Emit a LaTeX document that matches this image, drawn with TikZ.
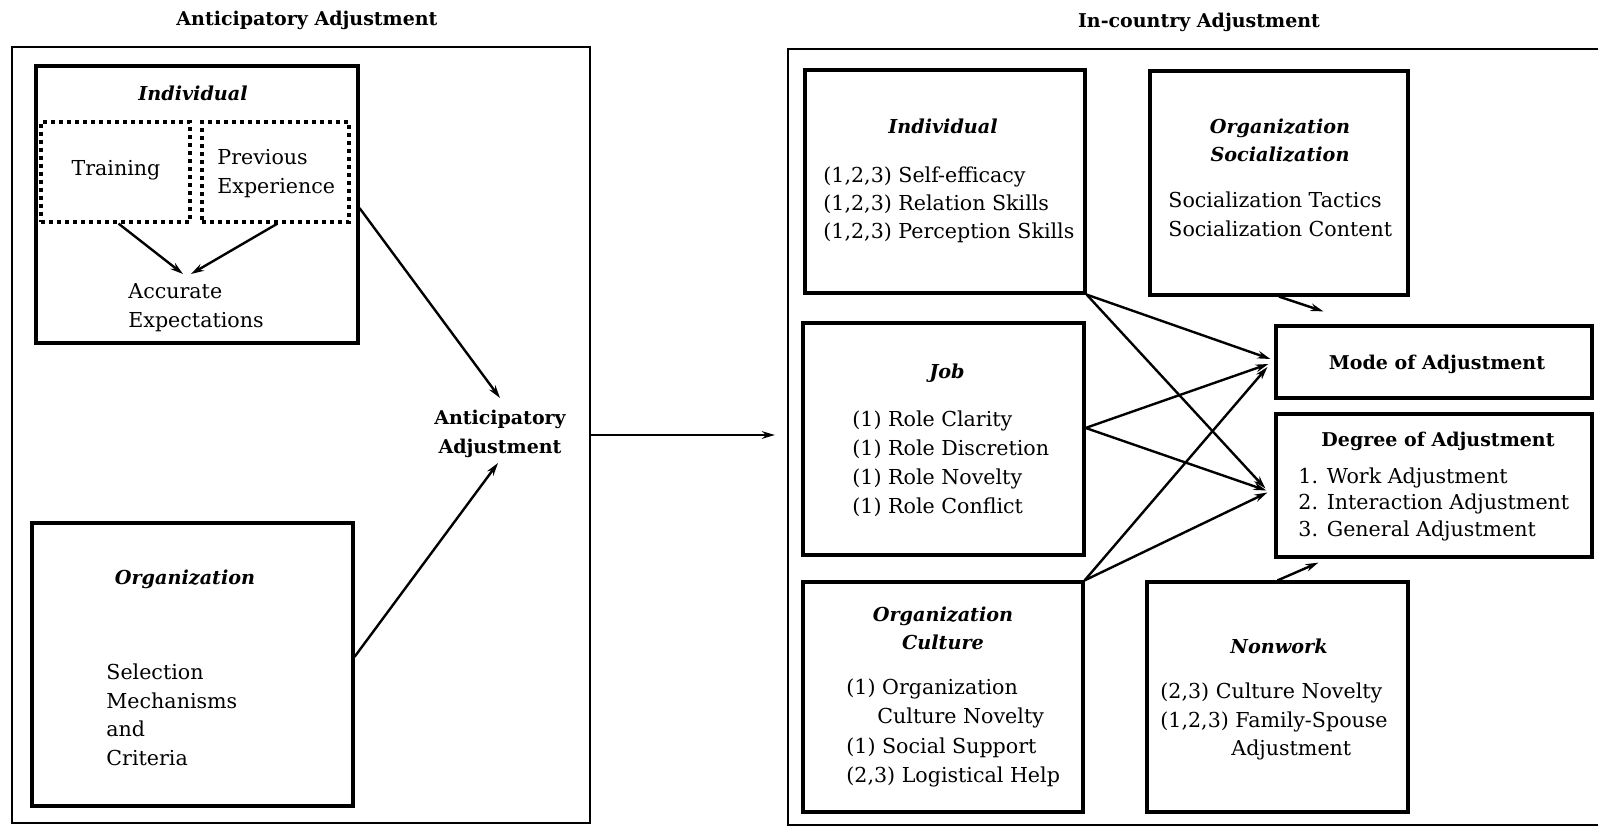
\documentclass[tikz,border=0pt]{standalone}
\usepackage{fontspec}
\setmainfont{DejaVu Serif}
\usetikzlibrary{arrows.meta,fit,calc}
\begin{document}
\begin{tikzpicture}[x=0.5pt,y=-0.5pt,
  box/.style={draw,line width=1.6pt,inner sep=0pt},
  dotbox/.style={draw,line width=1.6pt,inner sep=0pt,dash pattern=on 2.2pt off 1.8pt},
  frame/.style={draw,line width=1.1pt,inner sep=0pt},
  rt/.style={inner sep=0pt,font=\fontsize{10.3}{12}\selectfont},
  bt/.style={inner sep=0pt,font=\fontsize{9.5}{11}\selectfont\bfseries},
  bit/.style={inner sep=0pt,font=\fontsize{9.6}{11}\selectfont\bfseries\itshape},
  arr/.style={line width=1.2pt,-{Stealth[length=6.5pt,width=3.8pt]}},
]
\fill[white] (0,0) rectangle (1598,828);
\useasboundingbox (0,0) rectangle (1598,828);

% ---------------- left part ----------------
\node[bt,anchor=base] (titleL) at (307,26) {Anticipatory Adjustment};
\node[frame,fit={(12,47)(590,823)}] (outerL) {};

\node[box,fit={(36,66)(358,343)}] (indL) {};
\node[bit,anchor=base] (indLt) at (193,101) {Individual};
\node[dotbox,fit={(41,122)(190,222)}] (dTrain) {};
\node[dotbox,fit={(202,122)(349,222)}] (dPrev) {};
\node[rt,anchor=base] (train) at (116,176) {Training};
\node[rt,anchor=base west] (prev1) at (217,165) {Previous};
\node[rt,anchor=base west] (prev2) at (217,194) {Experience};
\node[rt,anchor=base west] (acc1) at (128,299) {Accurate};
\node[rt,anchor=base west] (acc2) at (128,328) {Expectations};
\coordinate (accTop) at (187,274);
\draw[arr] ($(dTrain.south)+(3,0)$) -- ($(accTop)+(-4,0)$);
\draw[arr] ($(dPrev.south)+(2,0)$) -- ($(accTop)+(4,0)$);

\node[box,fit={(32,523)(353,806)}] (orgL) {};
\node[bit,anchor=base] (orgLt) at (185,584) {Organization};
\node[rt,anchor=base west] (sel1) at (106,679) {Selection};
\node[rt,anchor=base west] (sel2) at (106,708) {Mechanisms};
\node[rt,anchor=base west] (sel3) at (106,736) {and};
\node[rt,anchor=base west] (sel4) at (106,765) {Criteria};

\node[bt,anchor=base] (ant1) at (500,424) {Anticipatory};
\node[bt,anchor=base] (ant2) at (500,453) {Adjustment};
\coordinate (antIn1) at (500,398);
\coordinate (antIn2) at (498,463);
\draw[arr] ($(indL.north east)!0.513!(indL.south east)$) -- (antIn1);
\draw[arr] ($(orgL.north east)!0.473!(orgL.south east)$) -- (antIn2);

% ---------------- right part ----------------
\node[bt,anchor=base] (titleR) at (1199,28) {In-country Adjustment};
\node[frame,fit={(788,49)(1640,825)}] (outerR) {};
\draw[arr] (outerL.east) -- ($(outerL.east -| outerR.west)+(-12,0)$);

\node[box,fit={(805,70)(1085,293)}] (indR) {};
\node[bit,anchor=base] (indRt) at (943,134) {Individual};
\node[rt,anchor=base west] (ir1) at (823,183) {(1,2,3) Self-efficacy};
\node[rt,anchor=base west] (ir2) at (823,211) {(1,2,3) Relation Skills};
\node[rt,anchor=base west] (ir3) at (823,239) {(1,2,3) Perception Skills};

\node[box,fit={(1150,71)(1408,295)}] (orgS) {};
\node[bit,anchor=base] (orgSt1) at (1280,134) {Organization};
\node[bit,anchor=base] (orgSt2) at (1280,162) {Socialization};
\node[rt,anchor=base west] (os1) at (1168,208) {Socialization Tactics};
\node[rt,anchor=base west] (os2) at (1168,237) {Socialization Content};

\node[box,fit={(1276,326)(1592,398)}] (mode) {};
\node[bt,anchor=base] (modet) at (1437,369) {Mode of Adjustment};

\node[box,fit={(1276,414)(1592,557)}] (deg) {};
\node[bt,anchor=base] (degt) at (1438,446) {Degree of Adjustment};
\node[rt,anchor=base west] (dg1) at (1298,483) {1. Work Adjustment};
\node[rt,anchor=base west] (dg2) at (1298,509) {2. Interaction Adjustment};
\node[rt,anchor=base west] (dg3) at (1298,536) {3. General Adjustment};

\node[box,fit={(803,323)(1084,555)}] (job) {};
\node[bit,anchor=base] (jobt) at (947,378) {Job};
\node[rt,anchor=base west] (jb1) at (852,426) {(1) Role Clarity};
\node[rt,anchor=base west] (jb2) at (852,455) {(1) Role Discretion};
\node[rt,anchor=base west] (jb3) at (852,484) {(1) Role Novelty};
\node[rt,anchor=base west] (jb4) at (852,513) {(1) Role Conflict};

\node[box,fit={(803,582)(1083,812)}] (orgC) {};
\node[bit,anchor=base] (orgCt1) at (943,621) {Organization};
\node[bit,anchor=base] (orgCt2) at (943,649) {Culture};
\node[rt,anchor=base west] (oc1) at (846,694) {(1) Organization};
\node[rt,anchor=base west] (oc2) at (877,723) {Culture Novelty};
\node[rt,anchor=base west] (oc3) at (846,753) {(1) Social Support};
\node[rt,anchor=base west] (oc4) at (846,782) {(2,3) Logistical Help};

\node[box,fit={(1147,582)(1408,812)}] (nonw) {};
\node[bit,anchor=base] (nonwt) at (1279,653) {Nonwork};
\node[rt,anchor=base west] (nw1) at (1160,698) {(2,3) Culture Novelty};
\node[rt,anchor=base west] (nw2) at (1160,727) {(1,2,3) Family-Spouse};
\node[rt,anchor=base west] (nw3) at (1231,755) {Adjustment};

% connectors
\coordinate (jobOut) at ($(job.north east)!0.453!(job.south east)$);
\draw[arr] (indR.south east) -- ($(mode.west)+(-4,-3)$);
\draw[arr] (indR.south east) -- ($(deg.west)+(-9,3)$);
\draw[arr] (jobOut) -- ($(mode.west)+(-6,2)$);
\draw[arr] (jobOut) -- ($(deg.west)+(-8,5)$);
\draw[arr] (orgC.north east) -- ($(mode.west)+(-7,5)$);
\draw[arr] (orgC.north east) -- ($(deg.west)+(-7,7)$);
\draw[arr] (orgS.south) -- ($(mode.north west)+(49,-13)$);
\draw[arr] (nonw.north) -- ($(deg.south west)+(44,4)$);
\end{tikzpicture}
\end{document}
